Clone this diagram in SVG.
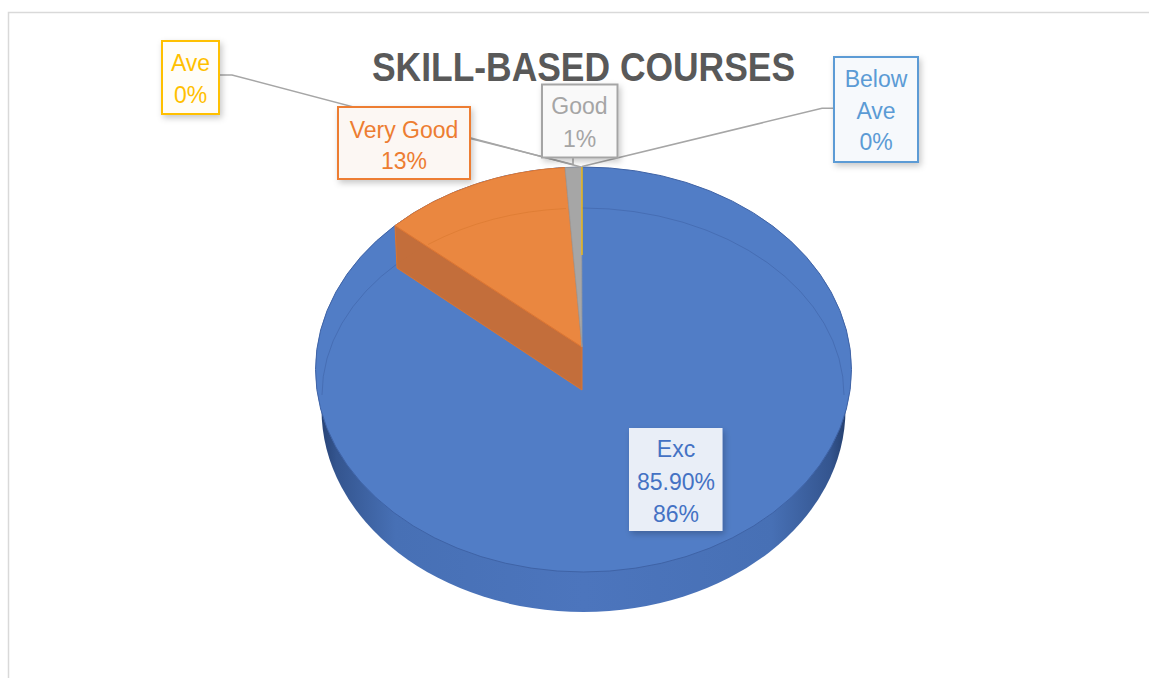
<svg xmlns="http://www.w3.org/2000/svg" width="1149" height="678" viewBox="0 0 1149 678">
<defs>
<style>
.lbl{font-family:"Liberation Sans",Arial,sans-serif;font-size:23px;text-anchor:middle}
.box{stroke-width:2}
.lead{fill:none;stroke:#A6A6A6;stroke-width:1.5}
</style>
<filter id="sh" x="-30%" y="-30%" width="160%" height="160%">
<feDropShadow dx="2" dy="3" stdDeviation="3" flood-color="#000" flood-opacity="0.22"/>
</filter>
<linearGradient id="side" x1="315" y1="0" x2="852" y2="0" gradientUnits="userSpaceOnUse">
<stop offset="0" stop-color="#223C6C"/>
<stop offset="0.04" stop-color="#34558F"/>
<stop offset="0.15" stop-color="#4770B5"/>
<stop offset="0.5" stop-color="#4C75BD"/>
<stop offset="0.85" stop-color="#4770B5"/>
<stop offset="0.96" stop-color="#34558F"/>
<stop offset="1" stop-color="#1F3762"/>
</linearGradient>
</defs>
<rect width="1149" height="678" fill="#FFFFFF"/>
<g id="frame" fill="none" stroke="#D9D9D9" stroke-width="1.5">
<path d="M8.5,678 V12.5 H1149"/>
</g>
<g id="title">
<text x="583.5" y="80.5" font-family="Liberation Sans,Arial,sans-serif" font-size="40" font-weight="bold" fill="#595959" text-anchor="middle" textLength="423" lengthAdjust="spacingAndGlyphs">SKILL-BASED COURSES</text>
</g>
<g id="pie">
<ellipse id="pie-side" cx="583.5" cy="409.5" rx="262" ry="202.5" fill="url(#side)"/>
<ellipse id="slice-exc" cx="583.5" cy="369.5" rx="268" ry="202.5" fill="#517DC6" stroke="#3F63A6" stroke-width="1"/>
<path id="back-rim" d="M322,395 A261,187 0 0 1 844,395" fill="none" stroke="#3A5C9E" stroke-width="1" opacity="0.45"/>
<path id="slice-verygood-side" d="M395,225.6 L582,347 L582,390 L397,268 Z" fill="#C96E34" fill-opacity="0.95" stroke="#DB7531" stroke-width="1"/>
<path id="slice-verygood" d="M582,347 L395,225.6 A268,202.5 0 0 1 565,167.5 Z" fill="#EA8740" stroke="#DE7733" stroke-width="1"/>
<path d="M428,244.5 A261,187 0 0 1 566,208.5" fill="none" stroke="#D9782F" stroke-width="1" opacity="0.6"/>
<path id="slice-good" d="M582,347 L565,167.5 A268,202.5 0 0 1 581.5,167 Z" fill="#A6A6A6" stroke="#9A9A9A" stroke-width="0.8"/>
<line id="slice-ave" x1="582" y1="167" x2="582" y2="255" stroke="#FFC000" stroke-width="1.3"/>
</g>
<g id="connectors">
<path class="lead" d="M220,75 H232 L581,167"/>
<path class="lead" d="M470,138.5 L573,164.5"/>
<path class="lead" d="M573,157.5 V165"/>
<path class="lead" d="M834,108.3 H822 L582,166.5"/>
</g>
<g id="label-ave">
<rect class="box" x="162" y="41" width="57" height="73" fill="#FFFDF8" stroke="#FFC000" filter="url(#sh)"/>
<text class="lbl" x="190.5" y="71" fill="#FFC000">Ave</text>
<text class="lbl" x="190.5" y="103" fill="#FFC000">0%</text>
</g>
<g id="label-verygood">
<rect class="box" x="338" y="107" width="132" height="72" fill="#FCF7F3" stroke="#ED7D31" filter="url(#sh)"/>
<text class="lbl" x="404" y="138" fill="#ED7D31">Very Good</text>
<text class="lbl" x="404" y="168.5" fill="#ED7D31">13%</text>
</g>
<g id="label-good">
<rect class="box" x="542" y="84.5" width="75.5" height="73" fill="#F9F9F9" stroke="#A5A5A5" filter="url(#sh)"/>
<text class="lbl" x="579.5" y="114" fill="#A5A5A5">Good</text>
<text class="lbl" x="579.5" y="146.5" fill="#A5A5A5">1%</text>
</g>
<g id="label-belowave">
<rect class="box" x="834" y="57" width="84" height="105" fill="#F6F9FC" stroke="#5B9BD5" filter="url(#sh)"/>
<text class="lbl" x="876" y="87" fill="#5B9BD5">Below</text>
<text class="lbl" x="876" y="118.5" fill="#5B9BD5">Ave</text>
<text class="lbl" x="876" y="150" fill="#5B9BD5">0%</text>
</g>
<g id="label-exc">
<rect x="629" y="428" width="93.5" height="103" fill="#E9EEF7" filter="url(#sh)"/>
<text class="lbl" x="676" y="457" fill="#4472C4">Exc</text>
<text class="lbl" x="676" y="490" fill="#4472C4">85.90%</text>
<text class="lbl" x="676" y="522" fill="#4472C4">86%</text>
</g>
</svg>
